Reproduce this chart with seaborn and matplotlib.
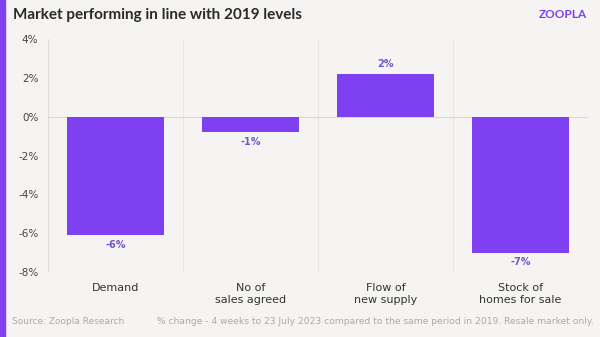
import matplotlib
matplotlib.use("Agg")
import matplotlib.pyplot as plt
import seaborn as sns
import pandas as pd
from matplotlib.patches import Rectangle

categories = ["Demand", "No of\nsales agreed", "Flow of\nnew supply", "Stock of\nhomes for sale"]
values = [-6.1, -0.8, 2.2, -7.0]
labels = ["-6%", "-1%", "2%", "-7%"]
yticks = [4, 2, 0, -2, -4, -6, -8]

sns.set_theme(style="white")
plt.rcParams['font.family'] = ['DejaVu Sans']

bg = "#f5f4f3"
purple = "#7f40f1"
label_col = "#7656c8"

fig = plt.figure(figsize=(6, 3.37), dpi=100, facecolor=bg)
ax = fig.add_axes([0.08, 0.193, 0.90, 0.691])
ax.set_facecolor(bg)

df = pd.DataFrame({"cat": categories, "val": values})
sns.barplot(data=df, x="cat", y="val", color=purple, width=0.72, saturation=1,
            linewidth=0, edgecolor="none", ax=ax)

ax.set_ylim(-8, 4)
ax.set_xlim(-0.5, 3.5)
ax.set_yticks(yticks)
ax.set_yticklabels([f"{t}%" for t in yticks], fontsize=7.5, color="#444444")
ax.tick_params(axis="y", length=0, pad=7)
ax.tick_params(axis="x", length=0, pad=8, labelsize=8, labelcolor="#333333")
ax.set_xlabel("")
ax.set_ylabel("")
for s in ax.spines.values():
    s.set_visible(False)
ax.axvline(-0.5, color="#dddddd", lw=0.8, zorder=0)
for xv in [0.5, 1.5, 2.5]:
    ax.axvline(xv, color="#e6e6e6", lw=0.8, zorder=0)
ax.axhline(0, color="#d8d8d8", lw=0.8, zorder=0)

for i, (v, lab) in enumerate(zip(values, labels)):
    if v >= 0:
        ax.text(i, v + 0.25, lab, ha="center", va="bottom", fontsize=7, color=label_col, fontweight="bold")
    else:
        ax.text(i, v - 0.25, lab, ha="center", va="top", fontsize=7, color=label_col, fontweight="bold")

# left purple stripe
fig.patches.append(Rectangle((0, 0), 5/600, 1, transform=fig.transFigure, color=purple, zorder=5))

fig.text(13/600, 1 - 15/337, "Market performing in line with 2019 levels", fontsize=11,
         fontweight="bold", color="#2a2a2a", va="center", ha="left", family=["Lato", "DejaVu Sans"])
fig.text(587/600, 1 - 14/337, "ZOOPLA", fontsize=8.5, fontweight="bold", color="#7f40f1",
         va="center", ha="right", family=["Lato", "DejaVu Sans"])
fig.text(12/600, 1 - 322/337, "Source: Zoopla Research", fontsize=6.5, color="#aaaaaa",
         va="center", ha="left")
fig.text(594/600, 1 - 322/337,
         "% change - 4 weeks to 23 July 2023 compared to the same period in 2019. Resale market only.",
         fontsize=6.6, color="#aaaaaa", va="center", ha="right")

fig.savefig("out.png", dpi=100, facecolor=bg)
